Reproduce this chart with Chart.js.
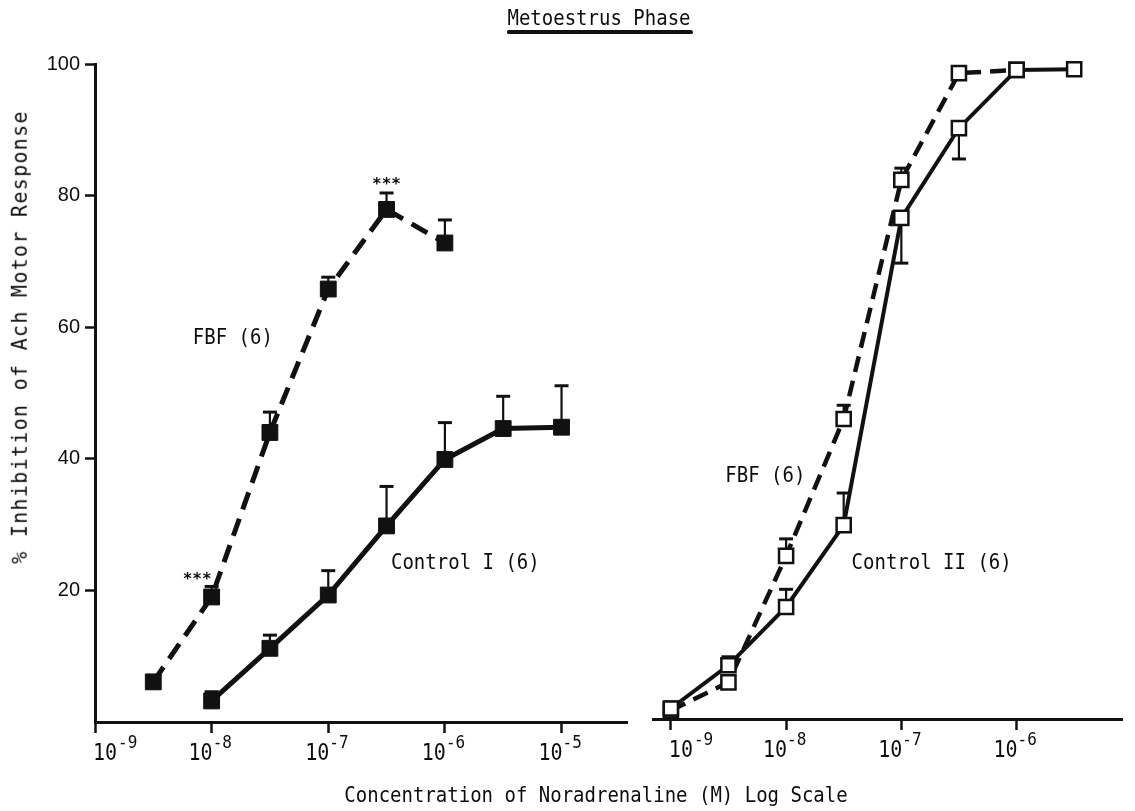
<!DOCTYPE html>
<html>
<head>
<meta charset="utf-8">
<title>Metoestrus Phase</title>
<script src="https://cdn.jsdelivr.net/npm/chart.js@4/dist/chart.umd.min.js"></script>
<style>
  html, body { margin: 0; padding: 0; background: #fff; }
  #wrap { position: relative; width: 1135px; height: 811px; overflow: hidden; background: #fff; }
  #wrap canvas { position: absolute; top: 0; }
  #cvLeft { left: 0; }
  #cvRight { left: 640px; }
  .lbl { position: absolute; font-family: "DejaVu Sans Mono", monospace; color: #0d0d0d; white-space: nowrap; line-height: 1; }
  #mainTitle { left: 599px; top: 18px; font-size: 19px; transform: translate(-50%, -50%) scaleY(1.15); }
  #titleRule { position: absolute; left: 507px; top: 30px; width: 186px; height: 4px; background: #111; border-radius: 2px 3px 2px 2px; }
  #xTitle { left: 596px; top: 795px; font-size: 19px; transform: translate(-50%, -50%) scaleY(1.15); }
  #yTitle { left: 19px; top: 337px; font-size: 20px; letter-spacing: 1.3px; transform: translate(-50%, -50%) rotate(-90deg) scaleY(1.1); }
</style>
</head>
<body>
<div id="wrap">
  <canvas id="cvLeft" width="640" height="811"></canvas>
  <canvas id="cvRight" width="495" height="811"></canvas>
  <div class="lbl" id="mainTitle">Metoestrus Phase</div>
  <div id="titleRule"></div>
  <div class="lbl" id="yTitle">% Inhibition of Ach Motor Response</div>
  <div class="lbl" id="xTitle">Concentration of Noradrenaline (M) Log Scale</div>
</div>
<script>
// ---- response axis ----
const yTicks = [20, 40, 60, 80, 100];

// ---- concentration axis ticks (powers of ten) ----
const leftTicks = [1e-9, 1e-8, 1e-7, 1e-6, 1e-5];
const leftTickExp = ['-9', '-8', '-7', '-6', '-5'];
const rightTicks = [1e-9, 1e-8, 1e-7, 1e-6];
const rightTickExp = ['-9', '-8', '-7', '-6'];

// ---- left panel: FBF (6), filled squares, dashed ----
const fbfIConc = [3.16e-9, 1e-8, 3.16e-8, 1e-7, 3.16e-7, 1e-6];
const fbfIMean = [6.1, 19.0, 44.0, 65.8, 77.9, 72.8];
const fbfISem  = [0, 1.6, 3.1, 1.8, 2.5, 3.5];

// ---- left panel: Control I (6), filled squares, solid ----
const ctlIConc = [1e-8, 3.16e-8, 1e-7, 3.16e-7, 1e-6, 3.16e-6, 1e-5];
const ctlIMean = [3.2, 11.2, 19.3, 29.8, 39.9, 44.6, 44.8];
const ctlISem  = [1.4, 2.0, 3.7, 6.0, 5.6, 4.9, 6.3];

// ---- right panel: FBF (6), open squares, dashed ----
const fbfIIConc = [1e-9, 3.16e-9, 1e-8, 3.16e-8, 1e-7, 3.16e-7, 1e-6];
const fbfIIMean = [1.3, 5.6, 24.9, 45.8, 82.3, 98.6, 99.1];
const fbfIISem  = [0, 0, 2.6, 2.1, 1.8, 0, 0];

// ---- right panel: Control II (6), open squares, solid ----
const ctlIIConc = [1e-9, 3.16e-9, 1e-8, 3.16e-8, 1e-7, 3.16e-7, 1e-6, 3.16e-6];
const ctlIIMean = [1.6, 8.2, 17.1, 29.6, 76.5, 90.2, 99.1, 99.2];
const ctlIISem  = [1.0, 1.3, 2.7, 4.9, 6.9, 4.7, 0, 0];
const ctlIIErrSide = [1, 1, 1, 1, -1, -1, 1, 1];   // -1: whisker drawn below the mean

// significance marks (***), left panel
const sigConc = [1e-8, 3.16e-7];
const sigLevel = [22.4, 82.4];

const INK = '#111';
const MONO = '"DejaVu Sans Mono", monospace';

function toPoints(conc, mean) {
  return conc.map((c, i) => ({ x: c, y: mean[i] }));
}

// text drawn slightly stretched vertically, like the typewriter lettering
function stretchedText(ctx, text, x, y, font, align, sy) {
  ctx.save();
  ctx.font = font;
  ctx.fillStyle = '#0d0d0d';
  ctx.textAlign = align;
  ctx.textBaseline = 'alphabetic';
  ctx.translate(x, y);
  ctx.scale(1, sy);
  ctx.fillText(text, 0, 0);
  ctx.restore();
}

// SEM whiskers, read from each dataset's sem / errSide arrays
const semWhiskers = {
  id: 'semWhiskers',
  beforeDatasetsDraw(chart) {
    const ctx = chart.ctx, xs = chart.scales.x, ys = chart.scales.y;
    chart.data.datasets.forEach(ds => {
      if (!ds.sem) return;
      ds.data.forEach((p, i) => {
        const e = ds.sem[i];
        if (!e) return;
        const side = ds.errSide ? ds.errSide[i] : 1;
        const px = xs.getPixelForValue(p.x);
        const py0 = ys.getPixelForValue(p.y);
        const py1 = ys.getPixelForValue(p.y + side * e);
        ctx.save();
        ctx.strokeStyle = INK;
        ctx.lineCap = 'butt';
        ctx.lineWidth = 2.2;
        ctx.beginPath(); ctx.moveTo(px, py0); ctx.lineTo(px, py1); ctx.stroke();
        ctx.lineWidth = 3;
        ctx.beginPath(); ctx.moveTo(px - 7, py1); ctx.lineTo(px + 7, py1); ctx.stroke();
        ctx.restore();
      });
    });
  }
};

// "10" with a raised exponent under each decade tick
function decadeLabels(ticks, exps) {
  return {
    id: 'decadeLabels',
    afterDraw(chart) {
      const ctx = chart.ctx, xs = chart.scales.x;
      const axisY = xs.top;
      ticks.forEach((v, i) => {
        const px = xs.getPixelForValue(v);
        if (i === 0) {
          ctx.save(); ctx.font = '20px ' + MONO;
          const w = ctx.measureText('10').width; ctx.restore();
          stretchedText(ctx, '10', px - 2, axisY + 38, '20px ' + MONO, 'left', 1.15);
          stretchedText(ctx, exps[i], px - 1 + w, axisY + 26, '16px ' + MONO, 'left', 1.15);
        } else {
          stretchedText(ctx, '10', px + 1, axisY + 38, '20px ' + MONO, 'right', 1.15);
          stretchedText(ctx, exps[i], px + 1, axisY + 26, '16px ' + MONO, 'left', 1.15);
        }
      });
    }
  };
}

// series names and significance marks placed in data coordinates
function panelText(items) {
  return {
    id: 'panelText',
    afterDraw(chart) {
      const ctx = chart.ctx, xs = chart.scales.x, ys = chart.scales.y;
      items.forEach(t => {
        const px = xs.getPixelForValue(t.x);
        const py = ys.getPixelForValue(t.y);
        stretchedText(ctx, t.text, px, py + (t.dy || 0), t.font, t.align || 'left', t.sy || 1.15);
      });
    }
  };
}

function lineSet(conc, mean, sem, opts) {
  return Object.assign({
    data: toPoints(conc, mean),
    sem: sem,
    borderColor: INK,
    borderWidth: 5,
    pointStyle: 'rect',
    pointRadius: 11.2,
    pointHoverRadius: 11.2,
    pointBackgroundColor: INK,
    pointBorderColor: INK,
    pointBorderWidth: 1,
    tension: 0,
    clip: false,
    fill: false
  }, opts);
}

function baseOptions(xMin, xMax, ticks, axisHeight, padding, showY) {
  return {
    responsive: false,
    devicePixelRatio: 1,
    animation: false,
    events: [],
    layout: { padding: padding },
    plugins: { legend: { display: false }, tooltip: { enabled: false }, title: { display: false } },
    scales: {
      x: {
        type: 'logarithmic',
        min: xMin, max: xMax,
        position: 'bottom',
        afterBuildTicks: s => { s.ticks = ticks.map(v => ({ value: v })); },
        afterFit: s => { s.height = axisHeight; },
        ticks: { display: false },
        grid: { display: true, drawOnChartArea: false, drawTicks: true, tickLength: 11, tickWidth: 2.5, tickColor: INK },
        border: { display: true, color: INK, width: 3 }
      },
      y: {
        display: showY,
        min: 0, max: 100,
        afterBuildTicks: s => { s.ticks = yTicks.map(v => ({ value: v })); },
        afterFit: s => { s.width = showY ? 95 : 0; },
        ticks: { font: { family: 'Liberation Sans', size: 20 }, color: '#0d0d0d', padding: 5 },
        grid: { display: true, drawOnChartArea: false, drawTicks: true, tickLength: 10, tickWidth: 2.5, tickColor: INK },
        border: { display: true, color: INK, width: 3 }
      }
    }
  };
}

// ---- left panel ----
new Chart(document.getElementById('cvLeft'), {
  type: 'line',
  data: {
    datasets: [
      lineSet(ctlIConc, ctlIMean, ctlISem, { label: 'Control I (6)' }),
      lineSet(fbfIConc, fbfIMean, fbfISem, { label: 'FBF (6)', borderDash: [18, 10] })
    ]
  },
  options: baseOptions(1e-9, 3.7e-5, leftTicks, 89, { left: 0, top: 64, right: 10, bottom: 0 }, true),
  plugins: [
    semWhiskers,
    decadeLabels(leftTicks, leftTickExp),
    panelText([
      { text: 'FBF (6)', x: 6.9e-9, y: 58.5, dy: 7, font: '19px ' + MONO },
      { text: 'Control I (6)', x: 3.45e-7, y: 24.3, dy: 7, font: '19px ' + MONO },
      { text: '***', x: sigConc[0], y: sigLevel[0], dy: 9, font: 'bold 16px ' + MONO, align: 'right', sy: 1 },
      { text: '***', x: sigConc[1], y: sigLevel[1], dy: 9, font: 'bold 16px ' + MONO, align: 'center', sy: 1 }
    ])
  ]
});

// ---- right panel ----
new Chart(document.getElementById('cvRight'), {
  type: 'line',
  data: {
    datasets: [
      lineSet(ctlIIConc, ctlIIMean, ctlIISem, {
        label: 'Control II (6)', errSide: ctlIIErrSide, borderWidth: 4,
        pointBackgroundColor: '#fff', pointBorderWidth: 2.5, pointRadius: 10, pointHoverRadius: 10
      }),
      lineSet(fbfIIConc, fbfIIMean, fbfIISem, {
        label: 'FBF (6)', borderDash: [16, 9], borderWidth: 4.5,
        pointBackgroundColor: '#fff', pointBorderWidth: 2.5, pointRadius: 10, pointHoverRadius: 10
      })
    ]
  },
  options: baseOptions(7.2e-10, 8.3e-6, rightTicks, 92, { left: 13, top: 64, right: 7, bottom: 0 }, false),
  plugins: [
    semWhiskers,
    decadeLabels(rightTicks, rightTickExp),
    panelText([
      { text: 'FBF (6)', x: 2.97e-9, y: 37.3, dy: 7, font: '19px ' + MONO },
      { text: 'Control II (6)', x: 3.7e-8, y: 24.0, dy: 7, font: '19px ' + MONO }
    ])
  ]
});
</script>
</body>
</html>
